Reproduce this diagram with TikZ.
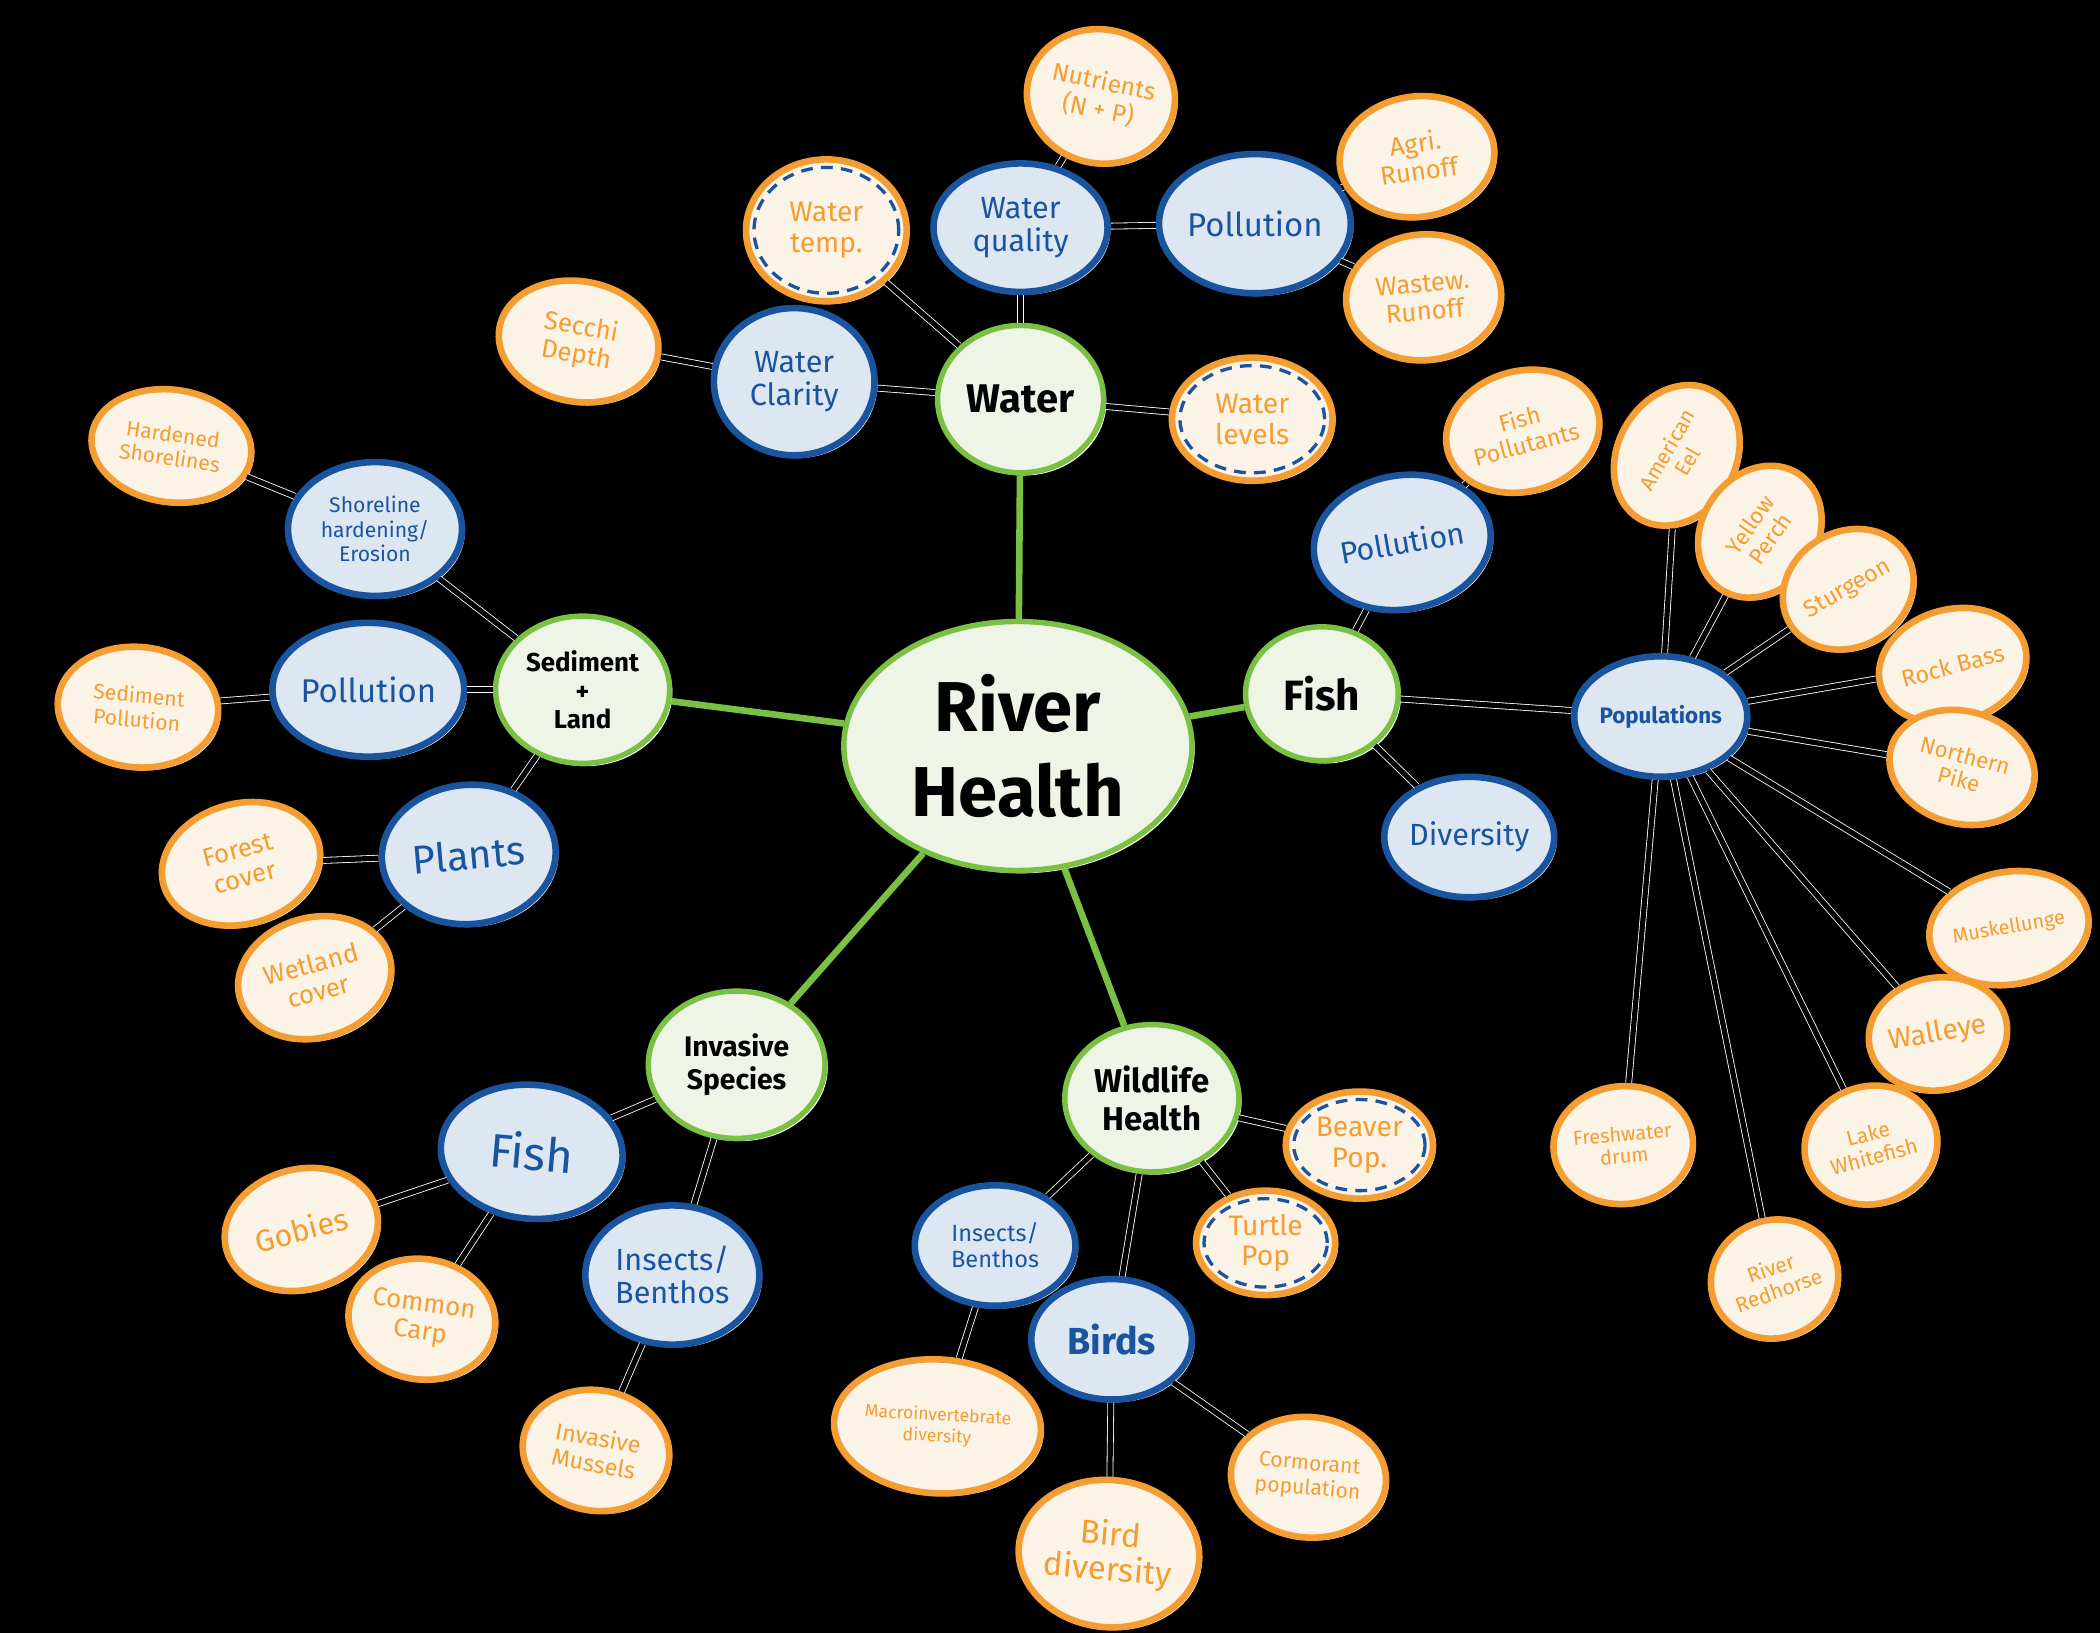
\documentclass[tikz,border=0pt]{standalone}
\usepackage{fontspec}
\setmainfont{Fira Sans}
\usetikzlibrary{shapes.geometric,shadows,calc}
\definecolor{hubgreen}{RGB}{122,193,67}
\definecolor{hubfill}{RGB}{238,244,230}
\definecolor{midblue}{RGB}{27,84,158}
\definecolor{midfill}{RGB}{220,231,242}
\definecolor{leaforange}{RGB}{244,157,50}
\definecolor{leaffill}{RGB}{252,243,231}
\newcommand{\tsz}[2]{\fontsize{#1}{#2}\selectfont}
\begin{document}
\begin{tikzpicture}[x=0.02cm, y=-0.02cm,
  bubble/.style={ellipse, inner sep=0pt, align=center, drop shadow={fill=white, opacity=1, shadow xshift=1.2pt, shadow yshift=-1.2pt}},
  hub/.style={bubble, draw=hubgreen, fill=hubfill, line width=2.3pt, text=black, font=\bfseries\tsz{15}{15}},
  mid/.style={bubble, draw=midblue, fill=midfill, line width=2.8pt, text=midblue, font=\tsz{13}{14}},
  leaf/.style={bubble, draw=leaforange, fill=leaffill, line width=2.8pt, text=leaforange, font=\tsz{10}{11}},
  dring/.style={path picture={\draw[midblue, line width=1.4pt, dash pattern=on 5pt off 3.5pt] let \p1=(path picture bounding box.north east), \p2=(path picture bounding box.center) in (\p2) ellipse ({\x1-\x2-3.4pt} and {\y1-\y2-3.4pt});}},
  sz/.style 2 args={minimum width=#1*0.04cm, minimum height=#2*0.04cm},
  spoke/.style={hubgreen, line width=2.8pt},
  link/.style={draw=white, line width=0.35pt, double=black, double distance=2.2pt}]
\fill[black] (0,0) rectangle (1568,1219);
\useasboundingbox (0,0) rectangle (1568,1219);
\node[hub, sz={130}{93}, font=\bfseries\tsz{30}{36}] (rh) at (760,557) {River\\Health};
\node[hub, sz={62}{55}, font=\bfseries\tsz{17}{18}] (water) at (762,298) {Water};
\node[hub, sz={65}{55}, font=\bfseries\tsz{11}{12}] (sedl) at (435,515) {Sediment\\+\\Land};
\node[hub, sz={57}{50}, font=\bfseries\tsz{18}{18}] (fish) at (987,518) {Fish};
\node[hub, sz={66}{55}, font=\bfseries\tsz{12}{14}] (inv) at (550,795) {Invasive\\Species};
\node[hub, sz={65}{55}, font=\bfseries\tsz{14}{16}] (wild) at (860,820) {Wildlife\\Health};
\draw[spoke](rh) -- (water);
\draw[spoke](rh) -- (sedl);
\draw[spoke](rh) -- (fish);
\draw[spoke](rh) -- (inv);
\draw[spoke](rh) -- (wild);
\node[mid, sz={65}{48}] (wq) at (762,170) {Water\\quality};
\node[leaf, sz={55}{50}, rotate=-12, font=\tsz{10.5}{12}] (nutr) at (822,72) {Nutrients\\(N + P)};
\draw[link](wq) -- (nutr);
\node[mid, sz={65}{52}, font=\tsz{14}{15}] (wpol) at (937,167) {Pollution};
\draw[link](wq) -- (wpol);
\node[leaf, sz={58}{45}, rotate=8, font=\tsz{11}{12}] (agri) at (1058,117) {Agri.\\Runoff};
\node[leaf, sz={58}{47}, rotate=5, font=\tsz{11}{12}] (waste) at (1063,222) {Wastew.\\Runoff};
\draw[link](wpol) -- (agri);
\draw[link](wpol) -- (waste);
\node[leaf, dring, sz={60}{53}, font=\tsz{12}{13}] (wtemp) at (617,172) {Water\\temp.};
\node[mid, sz={60}{55}] (wclar) at (593,285) {Water\\Clarity};
\node[leaf, sz={60}{45}, rotate=-10, font=\tsz{11}{12}] (secchi) at (432,255) {Secchi\\Depth};
\draw[link](wclar) -- (secchi);
\node[leaf, dring, sz={60}{46}, font=\tsz{12}{13}] (wlev) at (935,313) {Water\\levels};
\draw[link](water) -- (wq);
\draw[link](water) -- (wtemp);
\draw[link](water) -- (wclar);
\draw[link](water) -- (wlev);
\node[mid, sz={65}{50}, font=\tsz{9}{10.5}] (shore) at (280,395) {Shoreline\\hardening/\\Erosion};
\node[leaf, sz={60}{42}, rotate=-8, font=\tsz{9}{10}] (hard) at (128,333) {Hardened\\Shorelines};
\draw[link](shore) -- (hard);
\node[mid, sz={65}{50}, font=\tsz{14}{15}] (spol) at (275,515) {Pollution};
\node[leaf, sz={60}{45}, rotate=-5, font=\tsz{9}{10.5}] (sedpol) at (103,528) {Sediment\\Pollution};
\draw[link](spol) -- (sedpol);
\node[mid, sz={65}{52}, rotate=5, font=\tsz{17}{18}] (plants) at (350,638) {Plants};
\node[leaf, sz={60}{45}, rotate=15, font=\tsz{11}{12}] (forest) at (180,645) {Forest\\cover};
\node[leaf, sz={58}{45}, rotate=15, font=\tsz{11}{12}] (wet) at (235,730) {Wetland\\cover};
\draw[link](plants) -- (forest);
\draw[link](plants) -- (wet);
\draw[link](sedl) -- (shore);
\draw[link](sedl) -- (spol);
\draw[link](sedl) -- (plants);
\node[mid, sz={60}{50}, rotate=10] (fpol) at (1047,405) {Pollution};
\node[leaf, sz={58}{45}, rotate=15, font=\tsz{10}{11}] (fpolt) at (1137,322) {Fish\\Pollutants};
\draw[link](fpol) -- (fpolt);
\node[mid, sz={60}{45}] (div) at (1097,625) {Diversity};
\node[mid, sz={62}{45}, font=\bfseries\tsz{9.5}{10}] (pops) at (1240,535) {Populations};
\draw[link](fish) -- (fpol);
\draw[link](fish) -- (div);
\draw[link](fish) -- (pops);
\node[leaf, sz={55}{44}, rotate=60, font=\tsz{9}{10}] (eel) at (1252,340) {American\\Eel};
\node[leaf, sz={52}{43}, rotate=55, font=\tsz{9.5}{10.5}] (perch) at (1314,397) {Yellow\\Perch};
\node[leaf, sz={50}{43}, rotate=30, font=\tsz{10}{11}] (sturg) at (1380,440) {Sturgeon};
\node[leaf, sz={55}{42}, rotate=15, font=\tsz{10}{11}] (rbass) at (1458,497) {Rock Bass};
\node[leaf, sz={55}{42}, rotate=-15, font=\tsz{9.5}{10.5}] (pike) at (1465,573) {Northern\\Pike};
\node[leaf, sz={52}{42}, rotate=10, font=\tsz{8.5}{9.5}] (musk) at (1500,693) {Muskellunge};
\node[leaf, sz={50}{42}, rotate=10, font=\tsz{12}{13}] (walleye) at (1447,772) {Walleye};
\node[leaf, sz={50}{44}, rotate=15, font=\tsz{9}{10}] (white) at (1397,855) {Lake\\Whitefish};
\node[leaf, sz={48}{44}, rotate=20, font=\tsz{9}{10}] (redh) at (1325,955) {River\\Redhorse};
\node[leaf, sz={50}{44}, rotate=5, font=\tsz{8.5}{9.5}] (drum) at (1212,855) {Freshwater\\drum};
\draw[link](pops) -- (eel);
\draw[link](pops) -- (perch);
\draw[link](pops) -- (sturg);
\draw[link](pops) -- (rbass);
\draw[link](pops) -- (pike);
\draw[link](pops) -- (musk);
\draw[link](pops) -- (walleye);
\draw[link](pops) -- (white);
\draw[link](pops) -- (redh);
\draw[link](pops) -- (drum);
\node[mid, sz={68}{50}, rotate=-5, font=\tsz{20}{20}] (ifish) at (397,860) {Fish};
\node[leaf, sz={58}{45}, rotate=15, font=\tsz{13}{14}] (gobies) at (225,918) {Gobies};
\node[leaf, sz={55}{45}, rotate=-8, font=\tsz{11}{12}] (carp) at (315,985) {Common\\Carp};
\draw[link](ifish) -- (gobies);
\draw[link](ifish) -- (carp);
\node[mid, sz={65}{52}] (iins) at (502,952) {Insects/\\Benthos};
\node[leaf, sz={55}{45}, rotate=-10, font=\tsz{10}{11}] (mussels) at (445,1083) {Invasive\\Mussels};
\draw[link](iins) -- (mussels);
\draw[link](inv) -- (ifish);
\draw[link](inv) -- (iins);
\node[mid, sz={60}{45}, font=\tsz{10}{11}] (wins) at (743,930) {Insects/\\Benthos};
\node[leaf, sz={70}{50}, rotate=-3, font=\tsz{7.5}{9}] (macro) at (700,1065) {Macroinvertebrate\\diversity};
\draw[link](wins) -- (macro);
\node[mid, sz={60}{45}, font=\bfseries\tsz{16}{17}] (birds) at (830,1000) {Birds};
\node[leaf, sz={65}{55}, rotate=-5, font=\tsz{14}{15}] (birddiv) at (828,1160) {Bird\\diversity};
\node[leaf, sz={58}{45}, rotate=-5, font=\tsz{9}{10.5}] (corm) at (977,1103) {Cormorant\\population};
\draw[link](birds) -- (birddiv);
\draw[link](birds) -- (corm);
\node[leaf, dring, sz={55}{40}, font=\tsz{12}{13}] (beaver) at (1015,855) {Beaver\\Pop.};
\node[leaf, dring, sz={52}{39}, font=\tsz{12}{13}] (turtle) at (945,928) {Turtle\\Pop};
\draw[link](wild) -- (wins);
\draw[link](wild) -- (birds);
\draw[link](wild) -- (beaver);
\draw[link](wild) -- (turtle);
\end{tikzpicture}
\end{document}
